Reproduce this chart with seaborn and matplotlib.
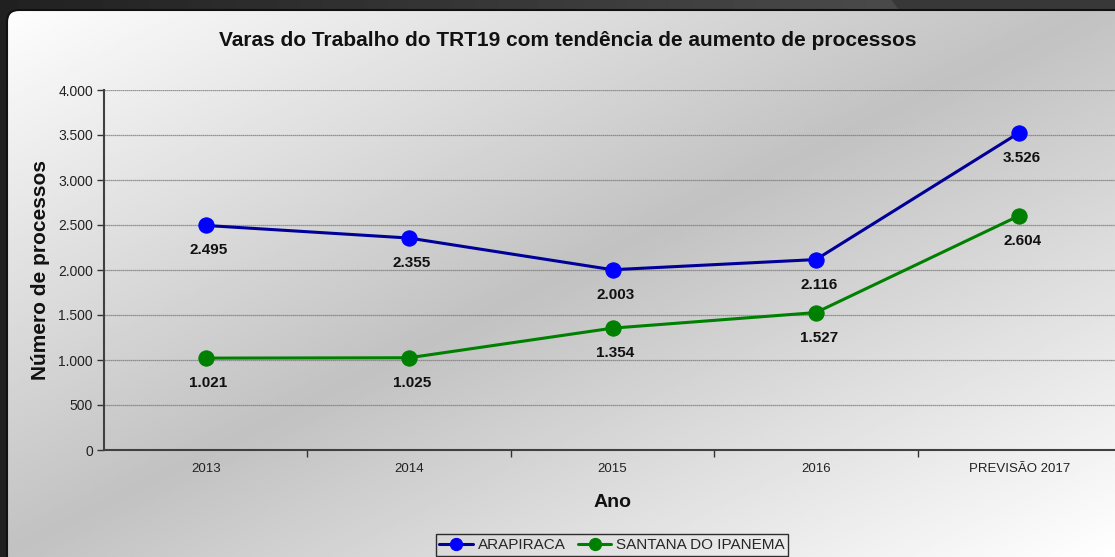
import numpy as np
import pandas as pd
import matplotlib
matplotlib.use("Agg")
import matplotlib.pyplot as plt
import seaborn as sns
from matplotlib.patches import FancyBboxPatch, Polygon
from matplotlib.ticker import FuncFormatter, FixedLocator

# ---- data ----
anos = ["2013", "2014", "2015", "2016", "PREVISÃO 2017"]
arapiraca = [2495, 2355, 2003, 2116, 3526]
santana = [1021, 1025, 1354, 1527, 2604]
series_names = ["ARAPIRACA", "SANTANA DO IPANEMA"]

df = pd.DataFrame({
    "Ano": anos * 2,
    "Processos": arapiraca + santana,
    "Vara": [series_names[0]] * len(anos) + [series_names[1]] * len(anos),
})

sns.set_theme(style="white")
plt.rcParams["font.family"] = ["Liberation Sans", "DejaVu Sans"]

W, H = 1115, 557
fig = plt.figure(figsize=(W / 100, H / 100), dpi=100)
fig.patch.set_facecolor("#2a2a2a")

# ---- background: dark frame + gradient card ----
bg = fig.add_axes([0, 0, 1, 1])
bg.set_xlim(0, W)
bg.set_ylim(H, 0)
bg.axis("off")

xx, yy = np.meshgrid(np.linspace(0, 1, 400), np.linspace(0, 1, 200))
frame = 0.13 + 0.2 * xx
bg.imshow(frame, extent=[0, W, H, 0], cmap="gray", vmin=0, vmax=1,
          aspect="auto", zorder=0)
bg.add_patch(Polygon([[892, 0], [W, 0], [W, 10], [900, 10]],
                     closed=True, color="#383838", zorder=1))

t = (xx + yy) / 2
card = 1 - 0.24 * (1 - np.abs(2 * t - 1))
img = bg.imshow(card, extent=[0, W, H, 0], cmap="gray", vmin=0, vmax=1,
                aspect="auto", zorder=2)
clip = FancyBboxPatch((7, 10), W + 60, H + 60,
                      boxstyle="round,pad=0,rounding_size=12",
                      facecolor="none", edgecolor="#111111", lw=1.5, zorder=3)
bg.add_patch(clip)
img.set_clip_path(clip)

# ---- chart ----
ax = fig.add_axes([104 / W, 1 - 450 / H, (1121 - 104) / W, (450 - 90) / H])
ax.patch.set_alpha(0)

styles = {
    series_names[0]: ("#000099", "#0000ff"),
    series_names[1]: ("#008000", "#008000"),
}
for name in series_names:
    line_c, mark_c = styles[name]
    sns.lineplot(data=df[df["Vara"] == name], x="Ano", y="Processos",
                 ax=ax, color=line_c, lw=2.2, marker="o", markersize=11,
                 markerfacecolor=mark_c, markeredgecolor=mark_c,
                 label=name, zorder=4)

for vals in (arapiraca, santana):
    for i, v in enumerate(vals):
        ax.annotate(f"{v:,}".replace(",", "."), (i, v), xytext=(2, -18),
                    textcoords="offset points", ha="center", va="center",
                    fontsize=11, fontweight="bold", color="#111111")

ax.set_xlim(-0.5, len(anos) - 0.5)
ax.set_ylim(0, 4000)
ax.set_yticks(np.arange(0, 4001, 500))
ax.yaxis.set_major_formatter(FuncFormatter(lambda v, p: f"{int(v):,}".replace(",", ".")))
ax.set_xticks(range(len(anos)))
ax.set_xticklabels(anos)
ax.xaxis.set_minor_locator(FixedLocator(np.arange(0.5, len(anos) - 0.5, 1)))
ax.tick_params(axis="x", which="major", length=0, pad=9, labelsize=9.5, colors="#222222")
ax.tick_params(axis="x", which="minor", length=5, width=1, direction="out",
               color="#333333", bottom=True)
ax.tick_params(axis="y", length=5, width=1, direction="out", color="#333333",
               left=True, labelsize=10, colors="#222222", pad=3)
ax.yaxis.grid(True, color="#7a7a7a", lw=0.9, ls=(0, (1, 0.6)))
ax.xaxis.grid(False)
for s in ("top", "right"):
    ax.spines[s].set_visible(False)
for s in ("left", "bottom"):
    ax.spines[s].set_color("#404040")
    ax.spines[s].set_linewidth(1.5)

ax.set_xlabel("Ano", fontsize=14, fontweight="bold", labelpad=14, color="#111111")
ax.set_ylabel("Número de processos", fontsize=15, fontweight="bold",
              labelpad=6, color="#111111")
fig.text(568 / W, 1 - 40 / H,
         "Varas do Trabalho do TRT19 com tendência de aumento de processos",
         ha="center", va="center", fontsize=15, fontweight="bold", color="#111111")

ax.get_legend().remove()
handles, labels = ax.get_legend_handles_labels()
leg = fig.legend(handles, labels, loc="center", ncol=2,
                 bbox_to_anchor=(612 / W, 1 - 545 / H), fontsize=11,
                 frameon=True, fancybox=False, edgecolor="black",
                 facecolor="none", handlelength=2.2, handletextpad=0.3,
                 columnspacing=0.8, borderpad=0.25, markerscale=0.8)
leg.get_frame().set_linewidth(1)

fig.savefig("out.png", dpi=100)
